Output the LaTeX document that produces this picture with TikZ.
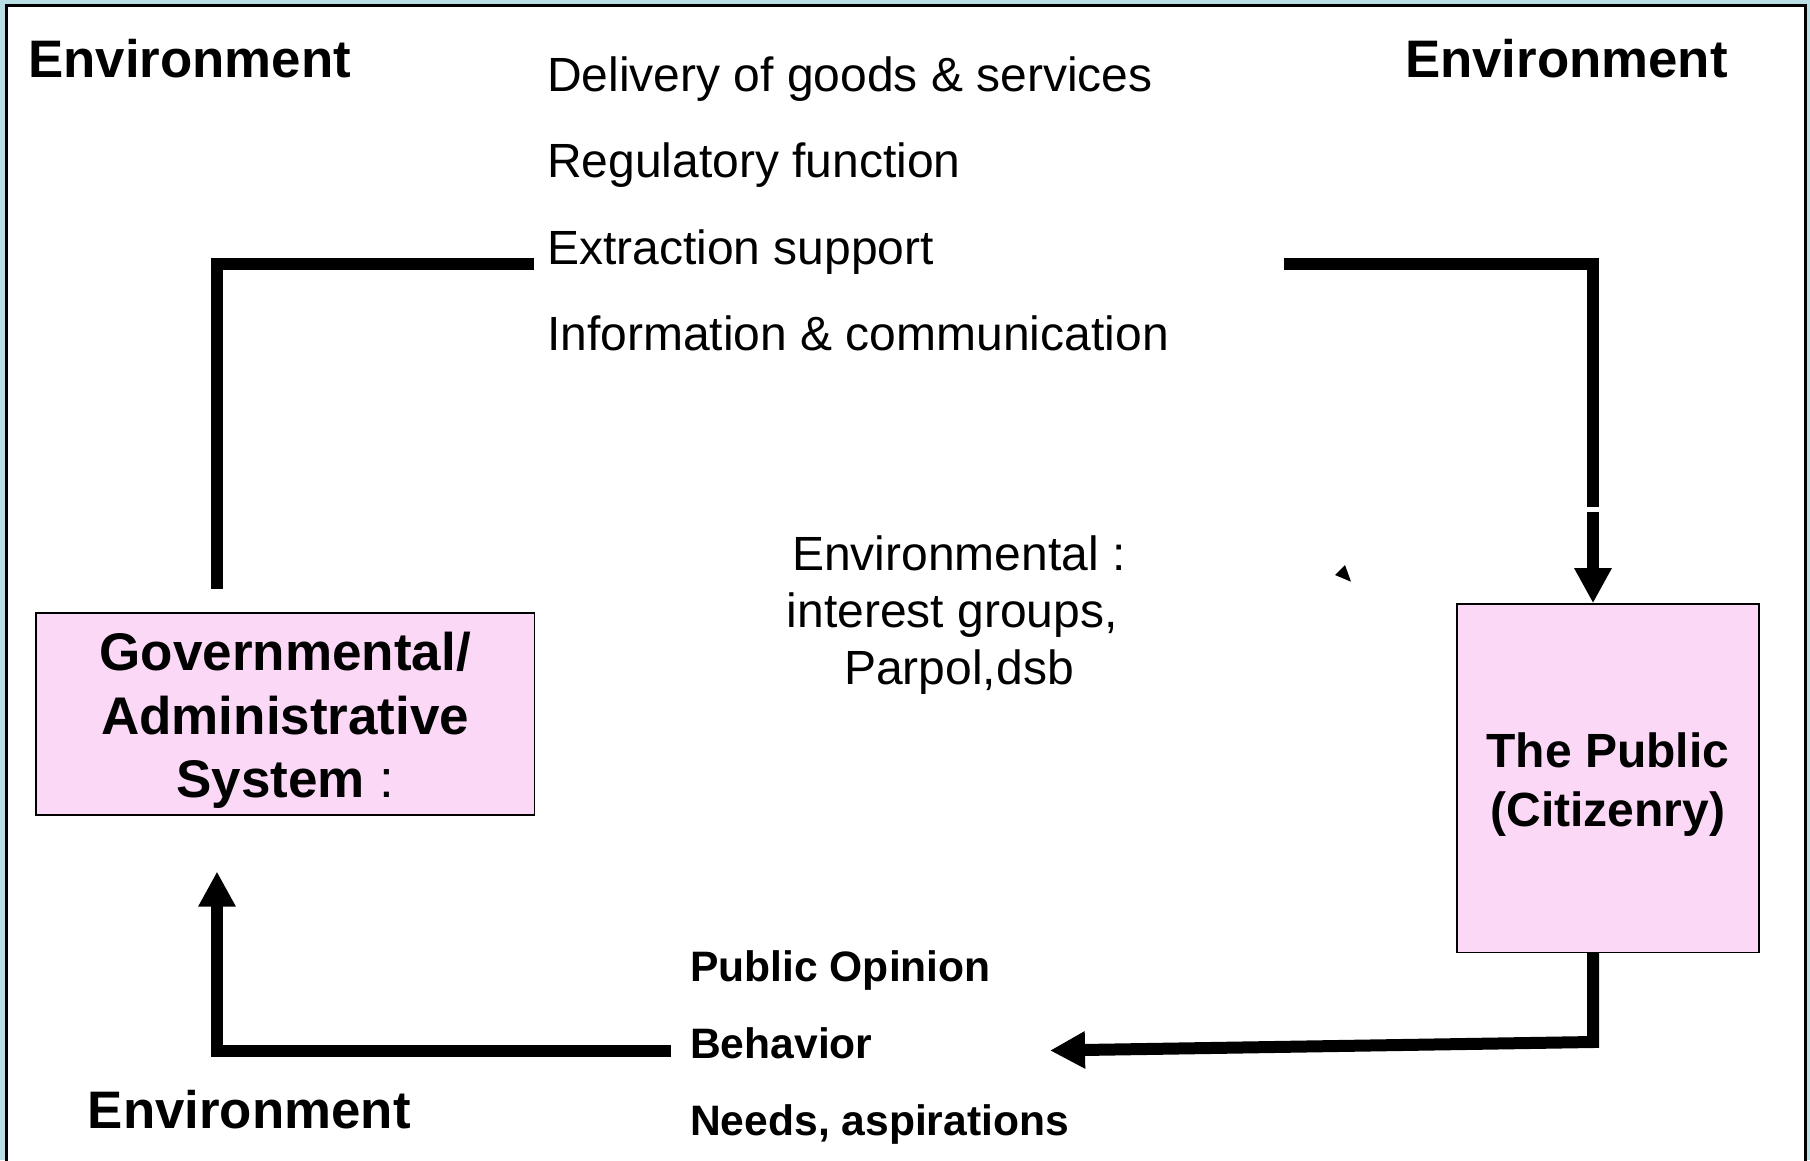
\documentclass[tikz,border=0pt]{standalone}
\usepackage{fontspec}
\setmainfont{Liberation Sans}
\usetikzlibrary{arrows.meta,calc}
\definecolor{framebg}{RGB}{185,223,228}
\definecolor{boxpink}{RGB}{250,216,246}
\begin{document}
\begin{tikzpicture}[x=1pt,y=-1pt,
  conn/.style={line width=12pt, line join=miter},
  tipa/.style={-{Triangle[length=35pt,width=35pt]}},
  pinkbox/.style={draw=black, line width=1.5pt, fill=boxpink, inner sep=0pt},
  envtxt/.style={font=\bfseries\fontsize{52.8}{63}\selectfont, anchor=base west, inner sep=0pt},
  toptxt/.style={font=\fontsize{48}{57}\selectfont, anchor=base west, inner sep=0pt},
  bottxt/.style={font=\bfseries\fontsize{42.6}{51}\selectfont, anchor=base west, inner sep=0pt},
]
\useasboundingbox (0,0) rectangle (1810,1160);
% frame
\fill[framebg] (0,0) rectangle (1810,1160);
\fill[white] (6.3,5.3) rectangle (1805.5,1160);
\draw[black, line width=2.5pt] (6.3,1161) -- (6.3,5.3) -- (1805.5,5.3) -- (1805.5,1161);

% boxes
\node[pinkbox, minimum width=498.7pt, minimum height=202pt] (gov) at (285.2,714) {};
\node[font=\bfseries\fontsize{53}{63.5}\selectfont, align=center, inner sep=0pt] (govtxt) at (285.2,720.4) {Governmental/\\Administrative\\System \textmd{:}};
\node[pinkbox, minimum width=302.3pt, minimum height=348.5pt] (pub) at (1607.9,778.2) {};
\node[font=\bfseries\fontsize{48}{59}\selectfont, align=center, inner sep=0pt] (pubtxt) at (1607.9,784.5) {The Public\\(Citizenry)};

% environment labels
\node[envtxt] (envtl) at (28,77) {Environment};
\node[envtxt] (envtr) at (1404.8,77) {Environment};
\node[envtxt] (envbl) at (87.7,1128) {Environment};

% top list
\node[toptxt] (t1) at (547,91) {Delivery of goods \& services};
\node[toptxt] (t2) at (547,177.8) {Regulatory function};
\node[toptxt] (t3) at (547,264.3) {Extraction support};
\node[toptxt] (t4) at (547,350.8) {Information \& communication};

% centre text
\node[font=\fontsize{48}{57}\selectfont, align=center, inner sep=0pt] (envc) at (959,615.5) {Environmental :\\interest groups,\makebox[13.3pt]{}\\Parpol,dsb};

% bottom list
\node[bottxt] (b1) at (690,981) {Public Opinion};
\node[bottxt] (b2) at (690,1058.5) {Behavior};
\node[bottxt] (b3) at (690,1135.8) {Needs, aspirations};

% connector coordinates
\coordinate (tlstart) at (217,588.7);
\coordinate (tlend) at (534.4,264);
\coordinate (trstart) at (1283.6,264);
\coordinate (trgap1) at (1593,506.7);
\coordinate (trgap2) at (1593,511.7);
\coordinate (brx) at (1593,1000);
\coordinate (brend) at (1050,1050.5);
\coordinate (blstart) at (670.6,1051);
\coordinate (blend) at (217,871.5);

% connectors
\draw[conn] (tlstart) -- (tlstart |- tlend) -- (tlend);
\draw[conn] (trstart) -- (trstart -| trgap1) -- (trgap1);
\draw[conn,tipa] (trgap2) -- (pub.north -| trgap2);
\draw[conn,tipa] (pub.south -| brx) -- (1593,1042) -- (brend);
\draw[conn,tipa] (blstart) -- (blstart -| blend) -- (blend);

% small stray arrowhead
\fill (1335,575) -- (1345,565) -- (1351,581.7) -- cycle;
\end{tikzpicture}
\end{document}
